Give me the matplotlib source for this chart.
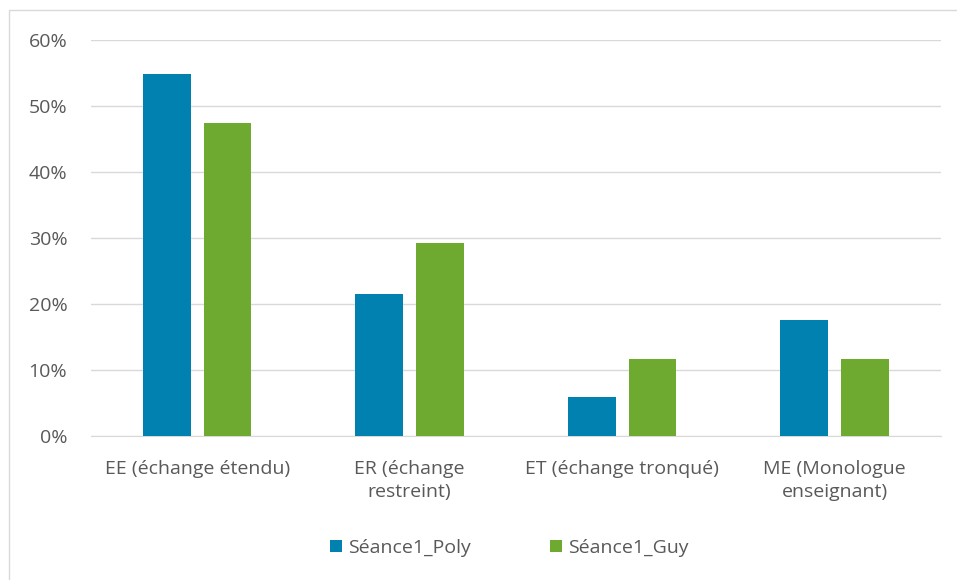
import matplotlib.pyplot as plt
import numpy as np
from matplotlib.patches import Rectangle

categories = ['EE (échange étendu)', 'ER (échange\nrestreint)',
              'ET (échange tronqué)', 'ME (Monologue\nenseignant)']
poly = [54.9, 21.6, 5.9, 17.6]
guy = [47.5, 29.3, 11.7, 11.7]
series_names = ['Séance1_Poly', 'Séance1_Guy']
colors = ['#0081B0', '#6DAA2F']
text_color = '#595959'

plt.rcParams['font.family'] = ['Open Sans', 'DejaVu Sans']

fig = plt.figure(figsize=(9.57, 5.8), dpi=100)
ax = fig.add_axes([0.095, 0.248, 0.888, 0.683])

x = np.arange(len(categories))
width = 0.225
offset = 0.143
ax.bar(x - offset, poly, width, color=colors[0], label=series_names[0], zorder=3)
ax.bar(x + offset, guy, width, color=colors[1], label=series_names[1], zorder=3)

ax.set_xlim(-0.5, len(categories) - 0.5)
ax.set_ylim(0, 60)
ax.set_yticks(np.arange(0, 61, 10))
ax.set_yticklabels([f'{v}%' for v in range(0, 61, 10)])
ax.set_xticks(x)
ax.set_xticklabels(categories, linespacing=1.4)
ax.tick_params(axis='both', length=0, colors=text_color, labelsize=14)
ax.tick_params(axis='x', pad=17)
ax.tick_params(axis='y', pad=17)

ax.grid(axis='y', color='#d9d9d9', linewidth=1, zorder=0)
for side in ['top', 'right', 'left']:
    ax.spines[side].set_visible(False)
ax.spines['bottom'].set_color('#d9d9d9')

leg = fig.legend(loc='center', bbox_to_anchor=(0.532, 0.055), ncol=2, frameon=False,
                 fontsize=14, handlelength=0.6, handleheight=0.6, handletextpad=0.3,
                 columnspacing=4.1)
for t in leg.get_texts():
    t.set_color(text_color)

# outer chart border
fig.patches.append(Rectangle((0.009, -0.01), 1.2, 0.993, transform=fig.transFigure,
                             fill=False, edgecolor='#d9d9d9', linewidth=1))

fig.savefig('out.png', dpi=100)
